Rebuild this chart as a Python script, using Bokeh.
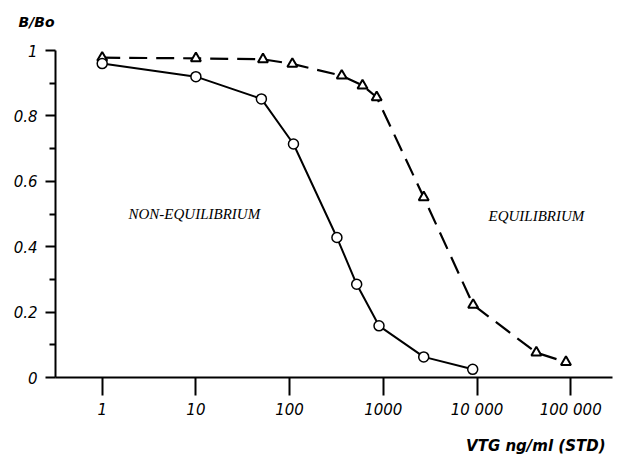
from bokeh.plotting import figure
from bokeh.models import FixedTicker, Label, Range1d
from bokeh.embed import file_html
from bokeh.resources import INLINE

# ---- data ----
conc_noneq = [1, 10, 50, 110, 320, 520, 900, 2700, 9000]
b_noneq = [0.96, 0.92, 0.852, 0.714, 0.428, 0.285, 0.158, 0.063, 0.025]

conc_eq = [1, 10, 52, 107, 360, 600, 850, 2700, 9100, 43000, 89000]
b_eq = [0.978, 0.976, 0.973, 0.959, 0.923, 0.893, 0.857, 0.551, 0.222, 0.076, 0.047]

x_ticks = [1, 10, 100, 1000, 10000, 100000]
x_tick_labels = ["1", "10", "100", "1000", "10 000", "100 000"]
y_ticks = [0, 0.2, 0.4, 0.6, 0.8, 1]
y_tick_labels = ["0", "0.2", "0.4", "0.6", "0.8", "1"]
y_minor = [0.1, 0.3, 0.5, 0.7, 0.9]

# ---- layout: the frame covers the whole canvas, axes are pinned inside ----
W, H = 629, 457
PX1 = 101.7     # pixel of x = 1
PXD = 93.7      # pixels per decade
PY0 = 377.0     # pixel of y = 0
PYU = 327.0     # pixels per unit of y
AX_L, AX_R = 55, 612   # pixel extent of the x axis line


def sx(px):
    return 10 ** ((px - PX1) / PXD)


def sy(py):
    return (PY0 - py) / PYU


p = figure(width=W, height=H, x_axis_type="log",
           x_range=Range1d(sx(0), sx(W)), y_range=Range1d(sy(H), sy(0)),
           output_backend="svg", toolbar_location=None,
           min_border=0, min_border_left=0, min_border_right=0,
           min_border_top=0, min_border_bottom=0)
p.grid.visible = False
p.outline_line_color = None
p.background_fill_color = "white"
p.border_fill_color = "white"

# axes
xa = p.xaxis[0]
xa.fixed_location = 0
xa.bounds = (sx(AX_L), sx(AX_R))
xa.ticker = FixedTicker(ticks=x_ticks, minor_ticks=[])
xa.major_label_overrides = {t: l for t, l in zip(x_ticks, x_tick_labels)}
xa.major_tick_out = 18
xa.major_tick_in = 0
xa.minor_tick_out = 0
xa.minor_tick_in = 0
xa.major_label_standoff = 5
xa.axis_line_width = 2
xa.major_tick_line_width = 2
xa.major_label_text_font = "DejaVu Sans"
xa.major_label_text_font_style = "italic"
xa.major_label_text_font_size = "15px"
xa.major_label_text_color = "black"

ya = p.yaxis[0]
ya.fixed_location = sx(AX_L)
ya.bounds = (0, 1)
ya.ticker = FixedTicker(ticks=y_ticks, minor_ticks=y_minor)
ya.major_label_overrides = {t: l for t, l in zip(y_ticks, y_tick_labels)}
ya.major_tick_out = 10
ya.major_tick_in = 0
ya.minor_tick_out = 6
ya.minor_tick_in = 0
ya.major_label_standoff = 8
ya.axis_line_width = 2
ya.major_tick_line_width = 2
ya.minor_tick_line_width = 2
ya.major_label_text_font = "DejaVu Sans"
ya.major_label_text_font_style = "italic"
ya.major_label_text_font_size = "15px"
ya.major_label_text_color = "black"

# curves
p.line(conc_eq, b_eq, line_color="black", line_width=2.2, line_dash="18 9")
p.line(conc_noneq, b_noneq, line_color="black", line_width=2)
p.scatter(conc_eq, b_eq, marker="triangle", size=10, fill_color="white",
          line_color="black", line_width=2)
p.scatter(conc_noneq, b_noneq, marker="circle", size=10, fill_color="white",
          line_color="black", line_width=1.5)

# texts
p.add_layout(Label(x=sx(18), y=sy(21), text="B/Bo", text_font="DejaVu Sans",
                   text_font_style="bold italic", text_font_size="14px",
                   text_baseline="middle", text_align="left", text_color="black"))
p.add_layout(Label(x=sx(605), y=sy(445), text="VTG ng/ml (STD)", text_font="DejaVu Sans",
                   text_font_style="bold italic", text_font_size="15px",
                   text_baseline="middle", text_align="right", text_color="black"))
p.add_layout(Label(x=sx(128), y=sy(213), text="NON-EQUILIBRIUM", text_font="Liberation Serif",
                   text_font_style="italic", text_font_size="15px",
                   text_baseline="middle", text_align="left", text_color="black"))
p.add_layout(Label(x=sx(488), y=sy(215), text="EQUILIBRIUM", text_font="Liberation Serif",
                   text_font_style="italic", text_font_size="15px",
                   text_baseline="middle", text_align="left", text_color="black"))

open("out.html", "w").write(file_html(p, INLINE))
